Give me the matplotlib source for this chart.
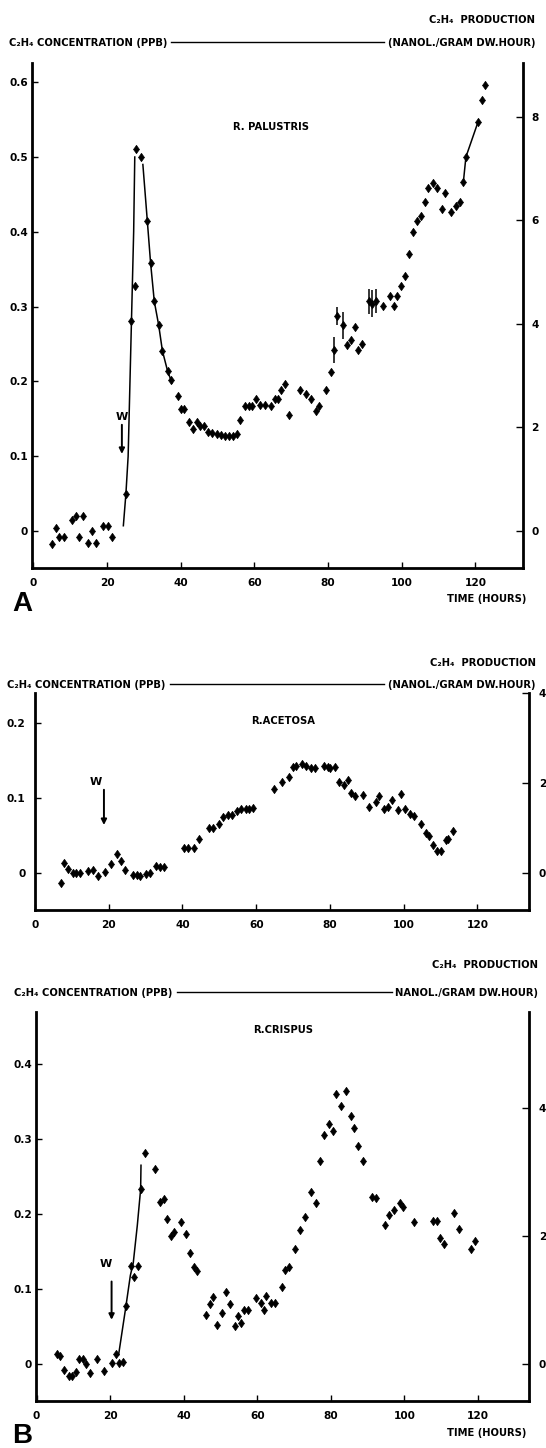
import matplotlib
matplotlib.use("Agg")
import matplotlib.pyplot as plt
from matplotlib.lines import Line2D

FONT = ['Liberation Sans Narrow', 'DejaVu Sans']
plt.rcParams['font.family'] = FONT
plt.rcParams['font.weight'] = 'bold'

# ---------------- data: R. palustris (panel A) ----------------
a_t = [5.1, 6.0, 6.9, 8.4, 10.5, 11.5, 12.4, 13.4, 14.8, 15.9, 17.1, 19.0, 20.1, 21.3, 25.1,
       26.6, 27.5, 27.9, 29.2, 30.9, 31.8, 32.8, 34.0, 35.0, 36.4, 37.3, 39.2, 40.1, 41.0, 42.3,
       43.2, 44.4, 45.3, 46.2, 47.5, 48.6, 49.8, 51.0, 51.9, 53.1, 54.1, 55.2, 56.2, 57.5, 58.5,
       59.4, 60.4, 61.6, 62.8, 64.4, 65.5, 66.5, 67.2, 68.4, 69.4, 72.4, 74.0, 75.4, 76.6, 77.4,
       79.5, 80.9, 81.5, 82.3, 84.0, 85.1, 86.3, 87.2, 88.2, 89.3, 91.0, 92.0, 92.9, 94.9, 96.9,
       97.8, 98.7, 99.9, 100.8, 101.9, 103.0, 104.0, 105.2, 106.3, 107.2, 108.4, 109.6, 111.0,
       111.8, 113.4, 114.6, 115.7, 116.7, 117.4, 120.7, 121.7, 122.5]
a_v = [-0.017, 0.004, -0.008, -0.008, 0.015, 0.020, -0.008, 0.020, -0.016, 0.000, -0.016, 0.006,
       0.006, -0.008, 0.050, 0.281, 0.327, 0.511, 0.500, 0.415, 0.358, 0.307, 0.275, 0.241, 0.214,
       0.202, 0.180, 0.163, 0.163, 0.146, 0.137, 0.146, 0.141, 0.140, 0.133, 0.131, 0.129, 0.128,
       0.127, 0.127, 0.127, 0.130, 0.149, 0.167, 0.167, 0.167, 0.176, 0.168, 0.168, 0.167, 0.176,
       0.176, 0.189, 0.196, 0.155, 0.189, 0.183, 0.176, 0.160, 0.167, 0.189, 0.212, 0.242, 0.287,
       0.275, 0.249, 0.255, 0.273, 0.242, 0.250, 0.307, 0.304, 0.307, 0.301, 0.314, 0.301, 0.314,
       0.328, 0.341, 0.370, 0.400, 0.415, 0.421, 0.440, 0.458, 0.465, 0.458, 0.430, 0.452, 0.427,
       0.434, 0.440, 0.466, 0.500, 0.547, 0.576, 0.596]
a_err_t = [81.5, 82.3, 84.0, 91.0, 92.0, 92.9]
a_err_v = [0.242, 0.287, 0.275, 0.307, 0.304, 0.307]
a_err_e = [0.017, 0.012, 0.018, 0.017, 0.018, 0.016]
a_rise_t = [24.4, 25.1, 25.7, 26.2, 26.7, 27.2, 27.5]
a_rise_v = [0.007, 0.050, 0.100, 0.200, 0.300, 0.400, 0.500]
a_fall_t = [29.7, 30.9, 31.8, 32.8, 34.0, 35.0, 36.4, 37.6]
a_fall_v = [0.490, 0.415, 0.358, 0.307, 0.275, 0.241, 0.214, 0.198]
a_end_t = [116.7, 117.4, 120.7]
a_end_v = [0.466, 0.500, 0.547]

# ---------------- data: R. acetosa ----------------
b_t = [7.0, 7.9, 9.0, 10.2, 11.2, 12.2, 14.5, 15.6, 17.0, 19.1, 20.5, 22.2, 23.2, 24.3, 26.5,
       27.6, 28.6, 30.0, 31.2, 32.9, 34.0, 34.9, 40.3, 41.5, 43.1, 44.5, 47.2, 48.3, 49.8, 51.1,
       52.4, 53.5, 54.7, 55.8, 57.1, 58.0, 59.1, 64.9, 67.1, 68.8, 70.0, 70.9, 72.4, 73.5, 74.8,
       75.9, 78.3, 79.4, 80.1, 81.3, 82.5, 83.9, 84.8, 85.6, 86.7, 89.1, 90.5, 92.4, 93.3, 94.7,
       95.7, 96.8, 98.5, 99.4, 100.4, 101.6, 102.7, 104.6, 106.0, 106.8, 107.9, 109.1, 110.1,
       111.5, 112.1, 113.3]
b_v = [-0.013, 0.013, 0.006, 0.000, 0.000, 0.000, 0.003, 0.004, -0.004, 0.002, 0.012, 0.026,
       0.016, 0.004, -0.003, -0.003, -0.004, -0.001, 0.000, 0.009, 0.008, 0.008, 0.033, 0.033,
       0.034, 0.046, 0.060, 0.060, 0.065, 0.075, 0.077, 0.078, 0.083, 0.085, 0.086, 0.086, 0.087,
       0.112, 0.122, 0.128, 0.141, 0.143, 0.146, 0.143, 0.140, 0.140, 0.143, 0.142, 0.140, 0.142,
       0.122, 0.117, 0.124, 0.107, 0.103, 0.104, 0.088, 0.095, 0.103, 0.086, 0.088, 0.098, 0.084,
       0.106, 0.086, 0.079, 0.076, 0.066, 0.053, 0.049, 0.037, 0.030, 0.029, 0.044, 0.045, 0.056]

# ---------------- data: R. crispus (panel B) ----------------
c_t = [5.5, 6.4, 7.5, 8.7, 9.6, 10.6, 11.6, 12.5, 13.5, 14.4, 16.5, 18.4, 20.4, 21.5, 22.4,
       23.4, 24.3, 25.6, 26.6, 27.5, 28.4, 29.4, 32.3, 33.7, 34.6, 35.6, 36.5, 37.5, 39.3, 40.7,
       41.7, 42.7, 43.6, 46.1, 47.1, 48.0, 49.2, 50.4, 51.6, 52.5, 53.9, 54.8, 55.7, 56.5, 57.6,
       59.8, 60.9, 61.9, 62.4, 63.7, 64.7, 66.7, 67.5, 68.7, 70.4, 71.7, 72.9, 74.7, 75.9, 77.0,
       78.2, 79.4, 80.7, 81.3, 82.9, 84.1, 85.4, 86.3, 87.5, 88.7, 91.3, 92.3, 94.8, 95.8, 97.2,
       98.7, 99.6, 102.5, 107.8, 108.8, 109.7, 110.9, 113.6, 114.9, 118.2, 119.1]
c_v = [0.014, 0.011, -0.008, -0.016, -0.016, -0.010, 0.007, 0.007, 0.000, -0.012, 0.007, -0.009,
       0.001, 0.013, 0.001, 0.003, 0.077, 0.131, 0.116, 0.131, 0.233, 0.281, 0.260, 0.216, 0.220,
       0.194, 0.171, 0.176, 0.190, 0.173, 0.148, 0.130, 0.124, 0.065, 0.080, 0.090, 0.052, 0.068,
       0.096, 0.080, 0.051, 0.064, 0.055, 0.072, 0.072, 0.088, 0.081, 0.072, 0.091, 0.081, 0.081,
       0.103, 0.126, 0.129, 0.153, 0.179, 0.196, 0.229, 0.215, 0.270, 0.305, 0.320, 0.310, 0.360,
       0.344, 0.364, 0.331, 0.315, 0.290, 0.270, 0.222, 0.221, 0.186, 0.199, 0.206, 0.215, 0.209,
       0.190, 0.191, 0.191, 0.168, 0.160, 0.201, 0.180, 0.153, 0.164]
c_rise_t = [22.3, 24.3, 25.5, 26.3, 27.4, 28.3, 28.4]
c_rise_v = [0.012, 0.077, 0.118, 0.135, 0.185, 0.233, 0.265]

x_ticks = [0, 20, 40, 60, 80, 100, 120]

W, H = 546, 1448
HS = 7.2   # header text size
fig = plt.figure(figsize=(W / 100, H / 100), dpi=100)


def rect(l, r, t, b):
    return [l / W, 1 - b / H, (r - l) / W, (b - t) / H]


def ftext(x, y, s, ha='left', size=HS, **kw):
    fig.text(x / W, 1 - y / H, s, ha=ha, va='center', fontsize=size,
             fontweight='bold', family=FONT, **kw)


def header(y_prod, y_conc, x_conc, line_l, line_r, x_right, unit):
    ftext(x_right, y_prod, 'C₂H₄  PRODUCTION', ha='right')
    ftext(x_conc, y_conc, 'C₂H₄ CONCENTRATION (PPB)')
    ftext(x_right, y_conc, unit, ha='right')
    fig.add_artist(Line2D([line_l / W, line_r / W], [1 - (y_conc - 1) / H] * 2,
                          color='black', lw=1.0, transform=fig.transFigure))


def setup(ax, xlim, ylim, yticks, ylabels, rylim, rticks, lpad, rpad):
    ax.set_xlim(*xlim)
    ax.set_ylim(*ylim)
    ax.spines['top'].set_visible(False)
    for s in ('left', 'right', 'bottom'):
        ax.spines[s].set_linewidth(2.0)
    ax.set_xticks(x_ticks)
    ax.set_xticklabels([str(v) for v in x_ticks])
    ax.set_yticks(yticks)
    ax.set_yticklabels(ylabels)
    ax.tick_params(axis='x', direction='in', length=4, width=1, pad=7, labelsize=7.6)
    ax.tick_params(axis='y', direction='in', length=4, width=1, pad=lpad, labelsize=7.6)
    axr = ax.twinx()
    axr.set_ylim(*rylim)
    axr.set_yticks(rticks)
    axr.set_yticklabels([str(v) for v in rticks])
    axr.tick_params(axis='y', direction='in', length=5, width=1, pad=rpad, labelsize=7.6)
    for s in axr.spines.values():
        s.set_visible(False)
    for lab in ax.get_xticklabels() + ax.get_yticklabels() + axr.get_yticklabels():
        lab.set_fontweight('bold')
    return axr


def points(ax, t, v):
    ax.plot(t, v, linestyle='none', marker='d', markersize=4.4, color='black',
            markeredgewidth=0.5)
    ax.plot(t, v, linestyle='none', marker='|', markersize=6, color='black',
            markeredgewidth=0.9)


def warrow(ax, tx, ty, axx, y0, y1):
    ax.text(tx, ty, 'W', ha='center', va='center', fontsize=8, fontweight='bold')
    ax.annotate('', xy=(axx, y1), xytext=(axx, y0),
                arrowprops=dict(arrowstyle='-|>', color='black', lw=1.4,
                                mutation_scale=8, shrinkA=0, shrinkB=0))


# ---------------- panel A ----------------
axA = fig.add_axes(rect(32, 523, 63, 568))
setup(axA, (-0.4, 132.9), (-0.0495, 0.6257), [0, 0.1, 0.2, 0.3, 0.4, 0.5, 0.6],
      ['0', '0.1', '0.2', '0.3', '0.4', '0.5', '0.6'],
      (-0.0495 / 0.06919, 0.6257 / 0.06919), [0, 2, 4, 6, 8], 3, 6)
points(axA, a_t, a_v)
axA.errorbar(a_err_t, a_err_v, yerr=a_err_e, fmt='none', ecolor='black', elinewidth=1.1)
for lt, lv in ((a_rise_t, a_rise_v), (a_fall_t, a_fall_v), (a_end_t, a_end_v)):
    axA.plot(lt, lv, color='black', lw=1.1)
warrow(axA, 24.0, 0.153, 24.0, 0.142, 0.103)
header(20, 43, 9, 171, 384, 535, '(NANOL./GRAM DW.HOUR)')
ftext(271, 127, 'R. PALUSTRIS', ha='center')
ftext(526, 599, 'TIME (HOURS)', ha='right')
fig.text(12 / W, 1 - 604 / H, 'A', ha='left', va='center', fontsize=20,
         family=['Liberation Sans', 'DejaVu Sans'], fontweight='bold')

# ---------------- panel R. acetosa ----------------
axB = fig.add_axes(rect(35, 529, 693, 910))
setup(axB, (0, 134), (-0.0493, 0.24), [0, 0.1, 0.2], ['0', '0.1', '0.2'],
      (-0.0493 / 0.06, 0.24 / 0.06), [0, 2, 4], 7, 7)
points(axB, b_t, b_v)
warrow(axB, 16.5, 0.122, 18.7, 0.111, 0.064)
header(663, 685, 7, 170, 384, 536, '(NANOL./GRAM DW.HOUR)')
ftext(283, 721, 'R.ACETOSA', ha='center')

# ---------------- panel R. crispus ----------------
axC = fig.add_axes(rect(36, 529, 1012, 1401))
setup(axC, (-0.15, 133.9), (-0.0493, 0.4693), [0, 0.1, 0.2, 0.3, 0.4],
      ['0', '0.1', '0.2', '0.3', '0.4'],
      (-0.0493 / 0.0853, 0.4693 / 0.0853), [0, 2, 4], 3, 7)
points(axC, c_t, c_v)
axC.plot(c_rise_t, c_rise_v, color='black', lw=1.1)
warrow(axC, 18.9, 0.133, 20.4, 0.110, 0.059)
header(965, 993, 14, 177, 392, 538, 'NANOL./GRAM DW.HOUR)')
ftext(283, 1030, 'R.CRISPUS', ha='center')
ftext(526, 1433, 'TIME (HOURS)', ha='right')
fig.text(12 / W, 1 - 1436 / H, 'B', ha='left', va='center', fontsize=20,
         family=['Liberation Sans', 'DejaVu Sans'], fontweight='bold')

fig.savefig('out.png', dpi=100)
